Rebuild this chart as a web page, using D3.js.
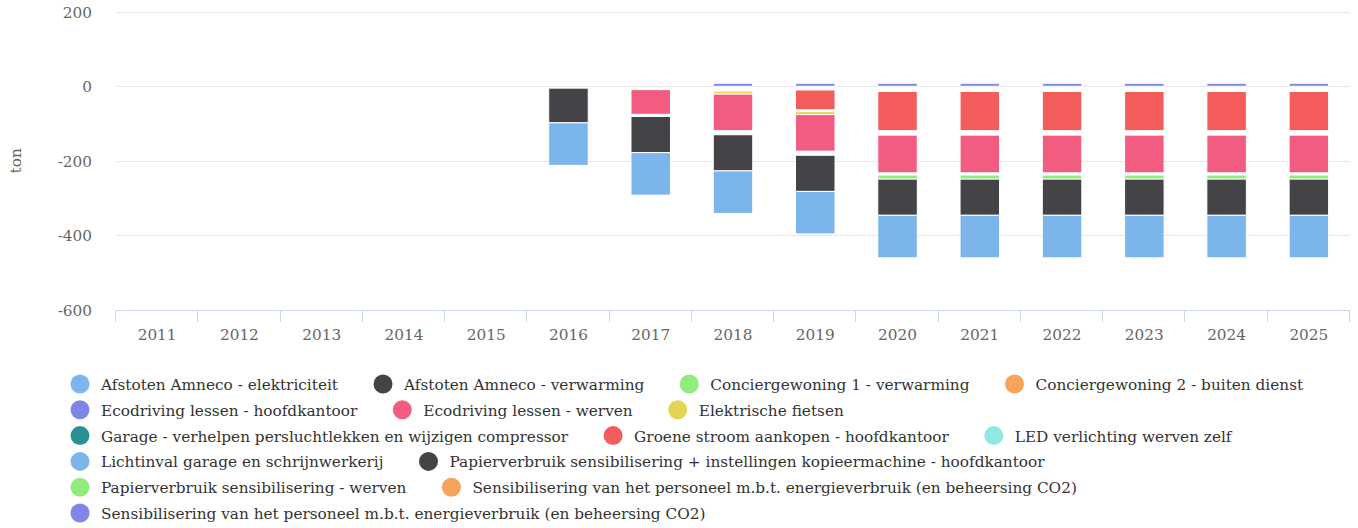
<!DOCTYPE html>
<html>
<head>
<meta charset="utf-8">
<script src="https://cdn.jsdelivr.net/npm/d3@7"></script>
<style>
  body { margin: 0; background: #fff; }
</style>
</head>
<body>
<svg id="chart"></svg>
<script>
// categories
var years = ["2011","2012","2013","2014","2015","2016","2017","2018","2019","2020","2021","2022","2023","2024","2025"];
var yTicks = [200, 0, -200, -400, -600];

// series values (ton), one value per year
var afstotenElek   = [0,0,0,0,0,-114,-114,-114,-114,-114,-114,-114,-114,-114,-114];
var afstotenVerw   = [0,0,0,0,0,-93,-97,-97,-97,-97,-97,-97,-97,-97,-97];
var concierge1     = [0,0,0,0,0,0,0,0,0,-11,-11,-11,-11,-11,-11];
var concierge2     = [0,0,0,0,0,0,0,0,0,0,0,0,0,0,0];
var ecoHoofd       = [0,0,0,0,0,0,0,0,0,0,0,0,0,0,0];
var ecoWerven      = [0,0,0,0,0,0,-66,-98,-98,-101,-101,-101,-101,-101,-101];
var fietsen        = [0,0,0,0,0,0,0,-8,-8,0,0,0,0,0,0];
var garage         = [0,0,0,0,0,0,0,0,0,0,0,0,0,0,0];
var groeneStroom   = [0,0,0,0,0,0,0,0,-53,-105,-105,-105,-105,-105,-105];
var ledWerven      = [0,0,0,0,0,0,0,0,0,0,0,0,0,0,0];
var lichtinval     = [0,0,0,0,0,0,0,0,0,0,0,0,0,0,0];
var papierHoofd    = [0,0,0,0,0,0,0,0,0,0,0,0,0,0,0];
var papierWerven   = [0,0,0,0,0,0,0,0,0,0,0,0,0,0,0];
var sensOranje     = [0,0,0,0,0,0,0,0,0,0,0,0,0,0,0];
var sensPaars      = [0,0,0,0,0,0,0,8,8,8,8,8,8,8,8];

// empty room inside the negative stacks (not drawn)
var gapTop = [0,0,0,0,0,-5,-9,-13,-10,-14,-14,-14,-14,-14,-14];
var gapMid = [0,0,0,0,0,0,0,0,-5,-12,-12,-12,-12,-12,-12];
var gapLow = [0,0,0,0,0,0,-6,-11,-11,-6,-6,-6,-6,-6,-6];

var series = [
  {name: "Afstoten Amneco - elektriciteit", data: afstotenElek},
  {name: "Afstoten Amneco - verwarming", data: afstotenVerw},
  {name: "Conciergewoning 1 - verwarming", data: concierge1},
  {name: "Conciergewoning 2 - buiten dienst", data: concierge2},
  {name: "Ecodriving lessen - hoofdkantoor", data: ecoHoofd},
  {name: "Ecodriving lessen - werven", data: ecoWerven},
  {name: "Elektrische fietsen", data: fietsen},
  {name: "Garage - verhelpen persluchtlekken en wijzigen compressor", data: garage},
  {name: "Groene stroom aankopen - hoofdkantoor", data: groeneStroom},
  {name: "LED verlichting werven zelf", data: ledWerven},
  {name: "Lichtinval garage en schrijnwerkerij", data: lichtinval},
  {name: "Papierverbruik sensibilisering + instellingen kopieermachine - hoofdkantoor", data: papierHoofd},
  {name: "Papierverbruik sensibilisering - werven", data: papierWerven},
  {name: "Sensibilisering van het personeel m.b.t. energieverbruik (en beheersing CO2)", data: sensOranje},
  {name: "Sensibilisering van het personeel m.b.t. energieverbruik (en beheersing CO2)", data: sensPaars}
];
var colors = ["#7cb5ec","#434348","#90ed7d","#f7a35c","#8085e9","#f15c80","#e4d354","#2b908f","#f45b5b","#91e8e1"];

// Liberation Serif is not picked up here, DejaVu Serif is
var FONT = "DejaVu Serif";
var W = 1358, H = 528;
var margin = {top: 11.7, left: 116, right: 8};
var plotBottom = 310;

var svg = d3.select("#chart").attr("width", W).attr("height", H);

var x = d3.scaleBand().domain(years).range([margin.left, W - margin.right]);
var y = d3.scaleLinear().domain([-600, 200]).range([plotBottom, margin.top]);

// grid
svg.append("g").selectAll("line").data(yTicks.filter(function(d){ return d > -600; }))
  .enter().append("line")
  .attr("x1", x.range()[0]).attr("x2", x.range()[1])
  .attr("y1", function(d){ return Math.round(y(d)) + 0.5; })
  .attr("y2", function(d){ return Math.round(y(d)) + 0.5; })
  .attr("stroke", "#e6e6e6").attr("stroke-width", 1);

function label(sel) {
  return sel.attr("font-family", FONT).attr("font-size", 15.3);
}

// y labels
label(svg.append("g").selectAll("text").data(yTicks).enter().append("text"))
  .attr("x", 92).attr("y", function(d){ return y(d) + 6; })
  .attr("text-anchor", "end").attr("fill", "#666")
  .text(function(d){ return d; });

label(svg.append("text"))
  .attr("transform", "translate(21," + ((margin.top + plotBottom) / 2) + ") rotate(-90)")
  .attr("text-anchor", "middle").attr("fill", "#666")
  .text("ton");

// stacking: order from zero downwards
var order = [gapTop, sensPaars, sensOranje, papierWerven, papierHoofd, lichtinval, ledWerven,
             groeneStroom, gapMid, garage, fietsen, ecoWerven, gapLow, ecoHoofd, concierge2,
             concierge1, afstotenVerw, afstotenElek];
var gaps = [gapTop, gapMid, gapLow];

var rects = [];
years.forEach(function(yr, i){
  var neg = 0, pos = 0;
  order.forEach(function(arr){
    var v = arr[i];
    if (!v) return;
    var y0, y1;
    if (v < 0) { y0 = neg; y1 = neg + v; neg = y1; }
    else { y0 = pos; y1 = pos + v; pos = y1; }
    if (gaps.indexOf(arr) >= 0) return;
    var si = series.findIndex(function(s){ return s.data === arr; });
    rects.push({year: yr, y0: y0, y1: y1, color: colors[si % colors.length]});
  });
});

var barW = x.bandwidth() * 0.48;
svg.append("g").selectAll("rect").data(rects).enter().append("rect")
  .attr("x", function(d){ return x(d.year) + (x.bandwidth() - barW) / 2; })
  .attr("width", barW)
  .attr("y", function(d){ return y(Math.max(d.y0, d.y1)); })
  .attr("height", function(d){ return Math.abs(y(d.y0) - y(d.y1)); })
  .attr("fill", function(d){ return d.color; })
  .attr("stroke", "#fff").attr("stroke-width", 1);

// x axis
var xa = svg.append("g");
xa.append("line").attr("x1", x.range()[0]).attr("x2", x.range()[1])
  .attr("y1", plotBottom + 0.5).attr("y2", plotBottom + 0.5).attr("stroke", "#ccd6eb");
xa.selectAll(".tick").data(years.concat(["end"])).enter().append("line")
  .attr("x1", function(d){ return Math.round(d === "end" ? x.range()[1] : x(d)) - 0.5; })
  .attr("x2", function(d){ return Math.round(d === "end" ? x.range()[1] : x(d)) - 0.5; })
  .attr("y1", plotBottom).attr("y2", plotBottom + 12).attr("stroke", "#ccd6eb");
label(xa.selectAll("text").data(years).enter().append("text"))
  .attr("x", function(d){ return x(d) + x.bandwidth() / 2; })
  .attr("y", 340).attr("text-anchor", "middle").attr("fill", "#666")
  .text(function(d){ return d; });

// legend (flowing rows)
var legend = svg.append("g");
var lx = 71, ly = 384, maxRight = 1340, rowH = 25.8;
series.forEach(function(s, i){
  var g = legend.append("g");
  var t = label(g.append("text")).attr("x", 30).attr("y", 6).attr("fill", "#333").text(s.name);
  var tw = t.node().getComputedTextLength();
  if (lx + 30 + tw > maxRight && lx > 71) { lx = 71; ly += rowH; }
  g.append("circle").attr("cx", 9).attr("cy", 0).attr("r", 9.5).attr("fill", colors[i % colors.length]);
  g.attr("transform", "translate(" + lx + "," + ly + ")");
  lx += 30 + tw + 36;
});
</script>
</body>
</html>
